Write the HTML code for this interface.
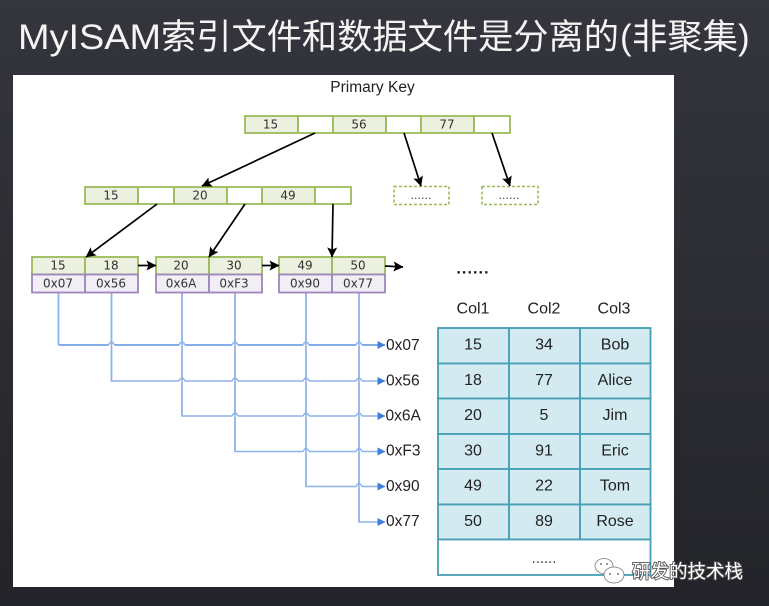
<!DOCTYPE html>
<html lang="zh">
<head>
<meta charset="utf-8">
<title>MyISAM</title>
<style>
html,body{margin:0;padding:0;width:769px;height:606px;overflow:hidden;background:#2a2b31}
svg{display:block}
text{font-family:"DejaVu Sans","Liberation Sans",sans-serif}
.t{font-size:12px;fill:#333;text-anchor:middle}
.c{font-family:"Liberation Sans","DejaVu Sans",sans-serif;font-size:16px;fill:#222;text-anchor:middle}
.a{font-family:"Liberation Sans","DejaVu Sans",sans-serif;font-size:15.5px;fill:#222}
.h{font-family:"Liberation Sans","Noto Sans CJK SC",sans-serif;font-size:35px;fill:#f4f4f4}
.g{fill:#ebf1de;stroke:#9bbb59;stroke-width:1.8}
.w{fill:#fff;stroke:#9bbb59;stroke-width:1.8}
.p{fill:#f1eef5;stroke:#9f85bb;stroke-width:1.8}
.k{stroke:#000;stroke-width:1.7;fill:none}
.b{stroke:#8db4e8;stroke-width:1.6;fill:none}
.cell{fill:#d2eaf0;stroke:#459fb5;stroke-width:1.8}
</style>
</head>
<body>
<svg width="769" height="606" viewBox="0 0 769 606" xmlns="http://www.w3.org/2000/svg">
<defs>
<linearGradient id="bg" x1="0" y1="0" x2="0" y2="1">
<stop offset="0" stop-color="#34353d"/>
<stop offset="0.5" stop-color="#2c2d33"/>
<stop offset="1" stop-color="#232429"/>
</linearGradient>
<marker id="ah" viewBox="0 0 10 10" refX="9.5" refY="5" markerWidth="12" markerHeight="10" markerUnits="userSpaceOnUse" orient="auto">
<path d="M0 0L10 5L0 10L2 5Z" fill="#000"/>
</marker>
<marker id="bh" viewBox="0 0 10 10" refX="9.5" refY="5" markerWidth="8" markerHeight="8" markerUnits="userSpaceOnUse" orient="auto">
<path d="M0 0L10 5L0 10Z" fill="#3f7fd8"/>
</marker>
</defs>
<rect width="769" height="606" fill="url(#bg)"/>
<text class="h" x="18" y="49" textLength="143" lengthAdjust="spacingAndGlyphs">MyISAM</text>
<text class="h" x="161" y="49" textLength="458" lengthAdjust="spacingAndGlyphs">索引文件和数据文件是分离的</text>
<text class="h" x="620" y="49">(</text>
<text class="h" x="632" y="49" textLength="106" lengthAdjust="spacingAndGlyphs">非聚集</text>
<text class="h" x="738" y="49">)</text>
<rect x="13" y="75" width="661" height="512" fill="#fff"/>
<text x="372.500" y="92" style='font-family:"Liberation Sans",sans-serif;font-size:15.500px;fill:#222;text-anchor:middle'>Primary Key</text>

<!-- root -->
<rect class="g" x="245" y="116" width="53" height="17"/><rect class="w" x="298" y="116" width="35" height="17"/>
<rect class="g" x="333" y="116" width="53" height="17"/><rect class="w" x="386" y="116" width="35" height="17"/>
<rect class="g" x="421" y="116" width="53" height="17"/><rect class="w" x="474" y="116" width="36" height="17"/>
<text class="t" x="270.500" y="128.500">15</text><text class="t" x="359" y="128.500">56</text><text class="t" x="447" y="128.500">77</text>

<!-- level 2 -->
<rect class="g" x="85" y="187" width="53" height="17"/><rect class="w" x="138" y="187" width="36" height="17"/>
<rect class="g" x="174" y="187" width="53" height="17"/><rect class="w" x="227" y="187" width="35" height="17"/>
<rect class="g" x="262" y="187" width="53" height="17"/><rect class="w" x="315" y="187" width="36" height="17"/>
<text class="t" x="111" y="199.500">15</text><text class="t" x="200" y="199.500">20</text><text class="t" x="288" y="199.500">49</text>

<!-- dashed -->
<rect x="394" y="186.500" width="55" height="18" fill="#fff" stroke="#9bbb59" stroke-width="1.600" stroke-dasharray="3 2"/>
<rect x="482" y="186.500" width="56" height="18" fill="#fff" stroke="#9bbb59" stroke-width="1.600" stroke-dasharray="3 2"/>
<text class="t" x="421" y="199" style="font-size:11px">......</text>
<text class="t" x="509" y="199" style="font-size:11px">......</text>

<!-- blue connectors -->
<g class="b">
<path d="M58.500 293V345" />
<path d="M58.500 345H385" stroke="#5b92e0" marker-end="url(#bh)"/>
<path d="M111.500 293V381H385" marker-end="url(#bh)"/>
<path d="M182 293V416H385" marker-end="url(#bh)"/>
<path d="M235 293V451.500H385" marker-end="url(#bh)"/>
<path d="M306 293V486.500H385" marker-end="url(#bh)"/>
<path d="M359 293V522H385" marker-end="url(#bh)"/>
</g>
<g fill="none" stroke="#fff" stroke-width="2.600">
<path d="M108.500 345h6M179 345h6M232 345h6M303 345h6M356 345h6"/>
<path d="M179 381h6M232 381h6M303 381h6M356 381h6"/>
<path d="M232 416h6M303 416h6M356 416h6"/>
<path d="M303 451.500h6M356 451.500h6"/>
<path d="M356 486.500h6"/>
</g>
<g fill="none" stroke="#8db4e8" stroke-width="1.500">
<path d="M58.500 293V345M111.500 293V381M182 293V416M235 293V451.500M306 293V486.500M359 293V522"/>
<path d="M108.500 345q3-6 6 0M179 345q3-6 6 0M232 345q3-6 6 0M303 345q3-6 6 0M356 345q3-6 6 0"/>
<path d="M179 381q3-6 6 0M232 381q3-6 6 0M303 381q3-6 6 0M356 381q3-6 6 0"/>
<path d="M232 416q3-6 6 0M303 416q3-6 6 0M356 416q3-6 6 0"/>
<path d="M303 451.500q3-6 6 0M356 451.500q3-6 6 0"/>
<path d="M356 486.500q3-6 6 0"/>
</g>

<!-- leaves -->
<g>
<rect class="g" x="32" y="257" width="53" height="17.500"/><rect class="g" x="85" y="257" width="53" height="17.500"/>
<rect class="g" x="156" y="257" width="53" height="17.500"/><rect class="g" x="209" y="257" width="53" height="17.500"/>
<rect class="g" x="279" y="257" width="53" height="17.500"/><rect class="g" x="332" y="257" width="53" height="17.500"/>
<rect class="p" x="32" y="274.500" width="53" height="18"/><rect class="p" x="85" y="274.500" width="53" height="18"/>
<rect class="p" x="156" y="274.500" width="53" height="18"/><rect class="p" x="209" y="274.500" width="53" height="18"/>
<rect class="p" x="279" y="274.500" width="53" height="18"/><rect class="p" x="332" y="274.500" width="53" height="18"/>
</g>
<text class="t" x="58" y="269.500">15</text><text class="t" x="111" y="269.500">18</text>
<text class="t" x="181" y="269.500">20</text><text class="t" x="234" y="269.500">30</text>
<text class="t" x="305" y="269.500">49</text><text class="t" x="358" y="269.500">50</text>
<text class="t" x="58" y="287.500">0x07</text><text class="t" x="111" y="287.500">0x56</text>
<text class="t" x="181" y="287.500">0x6A</text><text class="t" x="234" y="287.500">0xF3</text>
<text class="t" x="305" y="287.500">0x90</text><text class="t" x="358" y="287.500">0x77</text>

<!-- black arrows -->
<g class="k">
<line x1="315" y1="133" x2="202" y2="186" marker-end="url(#ah)"/>
<line x1="404" y1="133" x2="421" y2="186" marker-end="url(#ah)"/>
<line x1="492" y1="133" x2="510" y2="186" marker-end="url(#ah)"/>
<line x1="157" y1="204" x2="86" y2="257" marker-end="url(#ah)"/>
<line x1="245" y1="204" x2="209" y2="257" marker-end="url(#ah)"/>
<line x1="333" y1="204" x2="332" y2="257" marker-end="url(#ah)"/>
<line x1="138" y1="265.500" x2="156" y2="265.500" marker-end="url(#ah)"/>
<line x1="262" y1="265.500" x2="279" y2="265.500" marker-end="url(#ah)"/>
<line x1="385" y1="266" x2="403" y2="267" marker-end="url(#ah)"/>
</g>

<!-- address labels -->
<g>
<text class="a" x="386" y="350">0x07</text>
<text class="a" x="386" y="385.500">0x56</text>
<text class="a" x="385.500" y="420.500">0x6A</text>
<text class="a" x="386" y="455.500">0xF3</text>
<text class="a" x="386" y="491">0x90</text>
<text class="a" x="386" y="526">0x77</text>
</g>

<text x="473" y="273.500" style='font-family:"Liberation Sans",sans-serif;font-size:16px;font-weight:bold;fill:#111;text-anchor:middle;letter-spacing:1.100px'>......</text>

<!-- table -->
<text class="c" x="473" y="313.500">Col1</text><text class="c" x="544" y="313.500">Col2</text><text class="c" x="614" y="313.500">Col3</text>
<g>
<rect class="cell" x="438" y="328" width="71" height="35.500"/><rect class="cell" x="509" y="328" width="71" height="35.500"/><rect class="cell" x="580" y="328" width="70.500" height="35.500"/>
<rect class="cell" x="438" y="363.500" width="71" height="35"/><rect class="cell" x="509" y="363.500" width="71" height="35"/><rect class="cell" x="580" y="363.500" width="70.500" height="35"/>
<rect class="cell" x="438" y="398.500" width="71" height="35.500"/><rect class="cell" x="509" y="398.500" width="71" height="35.500"/><rect class="cell" x="580" y="398.500" width="70.500" height="35.500"/>
<rect class="cell" x="438" y="434" width="71" height="35"/><rect class="cell" x="509" y="434" width="71" height="35"/><rect class="cell" x="580" y="434" width="70.500" height="35"/>
<rect class="cell" x="438" y="469" width="71" height="35.500"/><rect class="cell" x="509" y="469" width="71" height="35.500"/><rect class="cell" x="580" y="469" width="70.500" height="35.500"/>
<rect class="cell" x="438" y="504.500" width="71" height="35"/><rect class="cell" x="509" y="504.500" width="71" height="35"/><rect class="cell" x="580" y="504.500" width="70.500" height="35"/>
<rect x="438" y="539.500" width="212.500" height="35.500" fill="#fff" stroke="#459fb5" stroke-width="1.800"/>
</g>
<g>
<text class="c" x="473" y="349.500">15</text><text class="c" x="544" y="349.500">34</text><text class="c" x="615" y="349.500">Bob</text>
<text class="c" x="473" y="385">18</text><text class="c" x="544" y="385">77</text><text class="c" x="615" y="385">Alice</text>
<text class="c" x="473" y="420">20</text><text class="c" x="544" y="420">5</text><text class="c" x="615" y="420">Jim</text>
<text class="c" x="473" y="455.500">30</text><text class="c" x="544" y="455.500">91</text><text class="c" x="615" y="455.500">Eric</text>
<text class="c" x="473" y="490.500">49</text><text class="c" x="544" y="490.500">22</text><text class="c" x="615" y="490.500">Tom</text>
<text class="c" x="473" y="526">50</text><text class="c" x="544" y="526">89</text><text class="c" x="615" y="526">Rose</text>
<text class="t" x="544" y="563" style="font-size:13px">......</text>
</g>

<!-- watermark -->
<g fill="#fff" stroke="#777" stroke-width="0.8">
<ellipse cx="604" cy="566" rx="9" ry="7.500"/>
<ellipse cx="614" cy="575" rx="10" ry="8"/>
</g>
<g fill="#777"><circle cx="601" cy="564" r="1"/><circle cx="607" cy="564" r="1"/><circle cx="610" cy="574" r="1"/><circle cx="618" cy="574" r="1"/></g>
<text x="632" y="578" style='font-family:"Noto Sans CJK SC",sans-serif;font-size:18.500px;fill:#fff;stroke:#555;stroke-width:1.800;paint-order:stroke'>研发的技术栈</text>
</svg>
</body>
</html>
